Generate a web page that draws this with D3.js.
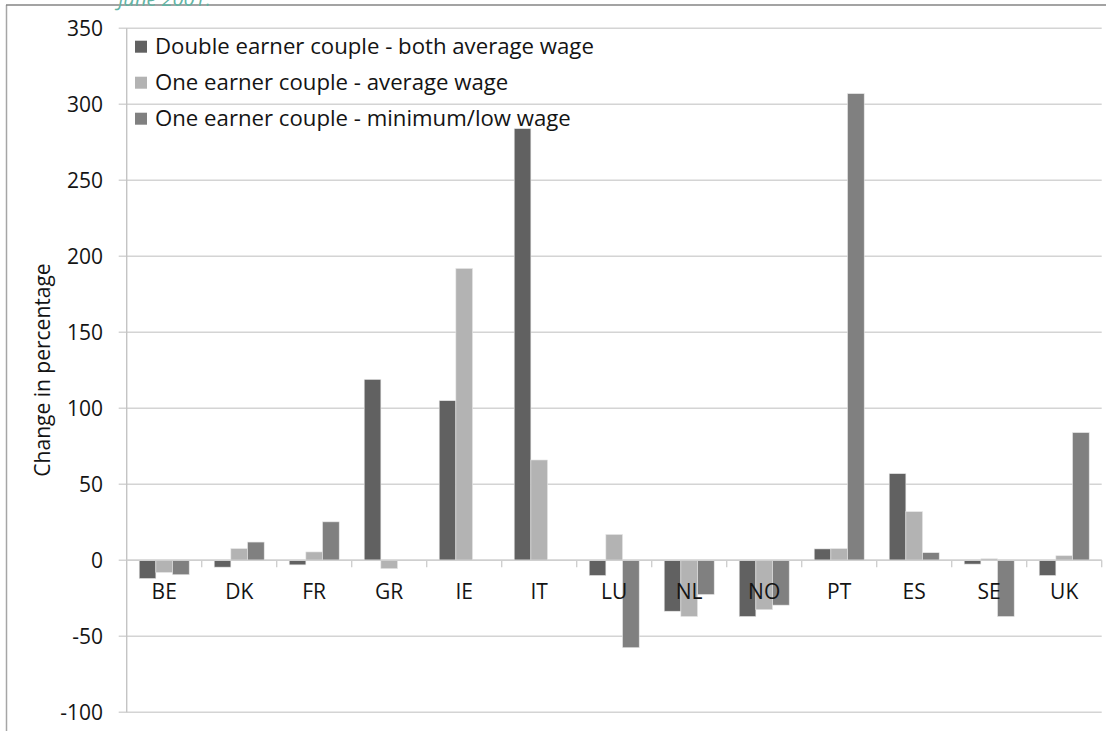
<!DOCTYPE html>
<html>
<head>
<meta charset="utf-8">
<script src="https://cdn.jsdelivr.net/npm/d3@7"></script>
<style>
  html, body { margin: 0; padding: 0; background: #fff; }
  svg { display: block; font-family: "Open Sans", Lato, sans-serif; }
</style>
</head>
<body>
<svg id="chart" width="1106" height="731"></svg>
<script>
// Country codes along the x axis
const categories = ["BE", "DK", "FR", "GR", "IE", "IT", "LU", "NL", "NO", "PT", "ES", "SE", "UK"];

// Series names (legend order)
const seriesNames = [
  "Double earner couple - both average wage",
  "One earner couple - average wage",
  "One earner couple - minimum/low wage"
];

// Change in percentage per country, one array per series (null = no value)
const doubleAverage = [-12, -4.5, -3, 119, 105, 284, -10, -33.5, -37, 7.5, 57, -2.5, -10];
const oneAverage    = [-8, 7.7, 5.5, -5.5, 192, 66, 17, -37, -32.5, 7.7, 32, 1, 3];
const oneLow        = [-9.5, 12, 25.3, null, null, null, -57.5, -22.5, -29.5, 307, 5, -37, 84];

// Y axis ticks
const yTicks = [-100, -50, 0, 50, 100, 150, 200, 250, 300, 350];

const seriesValues = [doubleAverage, oneAverage, oneLow];
const colors = ["#616161", "#b3b3b3", "#808080"];
const textColor = "#141414";

const svg = d3.select("#chart");

const plot = { left: 126.7, right: 1101.7, top: 28.3, bottom: 712.3 };

const y = d3.scaleLinear().domain([-100, 350]).range([plot.bottom, plot.top]);
const x0 = d3.scaleBand().domain(categories).range([plot.left, plot.right])
  .paddingInner(1 / 3).paddingOuter(1 / 6);
const x1 = d3.scaleBand().domain(d3.range(seriesNames.length)).range([0, x0.bandwidth()]);

// Outer frame (left and top edges)
svg.append("line").attr("x1", 6.5).attr("x2", 6.5).attr("y1", 5).attr("y2", 731)
  .attr("stroke", "#a6a6a6").attr("stroke-width", 1.5);
svg.append("line").attr("x1", 6).attr("x2", 1106).attr("y1", 5).attr("y2", 5)
  .attr("stroke", "#858585").attr("stroke-width", 1.5);

// Date caption running off the top edge
svg.append("text").attr("x", 118).attr("y", 6)
  .attr("font-size", 20).attr("font-style", "italic").attr("fill", "#62b3a3")
  .text("June 2001.");

// Horizontal gridlines with small left ticks
svg.append("g").selectAll("line").data(yTicks).join("line")
  .attr("x1", plot.left - 8).attr("x2", plot.right)
  .attr("y1", d => y(d)).attr("y2", d => y(d))
  .attr("stroke", "#d4d4d4").attr("stroke-width", 1.6);

// Vertical axis line
svg.append("line").attr("x1", plot.left).attr("x2", plot.left)
  .attr("y1", plot.top).attr("y2", plot.bottom)
  .attr("stroke", "#c4c4c4").attr("stroke-width", 1.4);

// Y tick labels
svg.append("g").selectAll("text").data(yTicks).join("text")
  .attr("x", 103).attr("y", d => y(d)).attr("dy", "0.35em")
  .attr("text-anchor", "end").attr("font-size", 21).attr("fill", textColor)
  .text(d => d);

// Y axis title
svg.append("text")
  .attr("transform", `translate(50, ${(263 + 477) / 2}) rotate(-90)`)
  .attr("text-anchor", "middle").attr("font-size", 21).attr("fill", textColor)
  .text("Change in percentage");

// Bars
const groups = svg.append("g").selectAll("g").data(categories).join("g")
  .attr("transform", c => `translate(${x0(c)},0)`);
groups.selectAll("rect")
  .data((c, ci) => seriesValues.map((vals, si) => ({ si, v: vals[ci] })).filter(d => d.v !== null))
  .join("rect")
  .attr("x", d => x1(d.si))
  .attr("width", x1.bandwidth())
  .attr("y", d => y(Math.max(0, d.v)))
  .attr("height", d => Math.abs(y(d.v) - y(0)))
  .attr("fill", d => colors[d.si])
  .attr("stroke", "#e6e6e6").attr("stroke-width", 0.6);

// Zero line over the bars, with category boundary ticks
svg.append("line").attr("x1", plot.left).attr("x2", plot.right)
  .attr("y1", y(0)).attr("y2", y(0))
  .attr("stroke", "#cfcfcf").attr("stroke-width", 1.6);
const step = x0.step();
svg.append("g").selectAll("line").data(d3.range(1, categories.length + 1)).join("line")
  .attr("x1", i => plot.left + i * step).attr("x2", i => plot.left + i * step)
  .attr("y1", y(0)).attr("y2", y(0) + 7)
  .attr("stroke", "#cfcfcf").attr("stroke-width", 1.4);

// Category labels (drawn over bars)
svg.append("g").selectAll("text").data(categories).join("text")
  .attr("x", c => x0(c) + x0.bandwidth() / 2)
  .attr("y", y(0) + 39)
  .attr("text-anchor", "middle").attr("font-size", 21).attr("fill", textColor)
  .text(c => c);

// Legend
const legend = svg.append("g").selectAll("g").data(seriesNames).join("g")
  .attr("transform", (d, i) => `translate(135, ${46.7 + i * 36})`);
legend.append("rect").attr("x", 0).attr("y", -6).attr("width", 12).attr("height", 12)
  .attr("fill", (d, i) => colors[i]);
legend.append("text").attr("x", 20).attr("y", 0).attr("dy", "0.35em")
  .attr("font-size", 22.2).attr("fill", textColor)
  .text(d => d);
</script>
</body>
</html>
